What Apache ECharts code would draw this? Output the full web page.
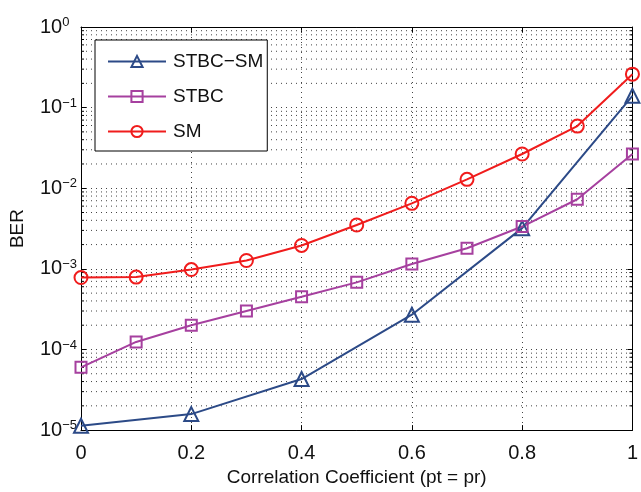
<!DOCTYPE html>
<html>
<head>
<meta charset="utf-8">
<script src="https://cdn.jsdelivr.net/npm/echarts@6/dist/echarts.min.js"></script>
<style>
html,body{margin:0;padding:0;background:#fff;}
#chart{width:641px;height:492px;}
</style>
</head>
<body>
<div id="chart"></div>
<script>
// ---- data ----
const xAll = [0, 0.1, 0.2, 0.3, 0.4, 0.5, 0.6, 0.7, 0.8, 0.9, 1.0];
const smBER = [7.8e-4, 7.9e-4, 9.8e-4, 1.27e-3, 1.95e-3, 3.5e-3, 6.5e-3, 1.29e-2, 2.66e-2, 5.9e-2, 0.26];
const stbcBER = [6.0e-5, 1.24e-4, 2.0e-4, 3.0e-4, 4.5e-4, 6.8e-4, 1.15e-3, 1.8e-3, 3.35e-3, 7.3e-3, 2.66e-2];
const stbcsmX = [0, 0.2, 0.4, 0.6, 0.8, 1.0];
const stbcsmBER = [1.13e-5, 1.58e-5, 4.3e-5, 2.7e-4, 3.2e-3, 0.14];
const seriesNames = ['STBC\u2212SM', 'STBC', 'SM'];
const yExponents = [0, -1, -2, -3, -4, -5];
const minorMantissas = [2, 3, 4, 5, 6, 7, 8, 9];
const minorDecades = [-5, -4, -3, -2, -1];

const FONT = "'Liberation Sans', Arial, sans-serif";
const colors = { stbcsm: '#2c4a87', stbc: '#a6409f', sm: '#f01c1c' };

const minorVals = [];
minorDecades.forEach(d => minorMantissas.forEach(m => minorVals.push([0, m * Math.pow(10, d)])));

const chart = echarts.init(document.getElementById('chart'), null, { renderer: 'canvas' });

function mkLine(name, xs, ys, color, symbol, size) {
  return {
    name: name, type: 'line', xAxisIndex: 0, yAxisIndex: 0,
    data: xs.map((x, i) => [x, ys[i]]),
    symbol: symbol, symbolSize: size, showSymbol: true,
    lineStyle: { color: color, width: 2 },
    itemStyle: { color: 'rgba(255,255,255,0)', borderColor: color, borderWidth: 2 },
    z: 5, animation: false
  };
}

const option = {
  animation: false,
  backgroundColor: '#fff',
  grid: { left: 79, right: 5, top: 27, bottom: 61, show: false },
  legend: {
    orient: 'vertical', left: 95, top: 40,
    data: seriesNames,
    backgroundColor: '#fff', borderColor: '#000', borderWidth: 1,
    padding: [12, 4, 10, 12], itemGap: 16, itemWidth: 58, itemHeight: 14,
    textStyle: { fontFamily: FONT, fontSize: 19, color: '#111', padding: [0, 0, 0, 2] },
    selectedMode: false
  },
  xAxis: [{
    type: 'value', min: 0, max: 1, interval: 0.2, position: 'bottom',
    name: 'Correlation Coefficient (pt = pr)', nameLocation: 'middle', nameGap: 37,
    nameTextStyle: { fontFamily: FONT, fontSize: 19, color: '#111' },
    axisLine: { show: true, onZero: false, lineStyle: { color: '#000', width: 1 } },
    axisTick: { show: true, inside: true, length: 5, lineStyle: { color: '#000' } },
    axisLabel: { fontFamily: FONT, fontSize: 20, color: '#111', margin: 13,
      formatter: v => String(+v.toFixed(1)) },
    splitLine: { show: true, lineStyle: { color: '#444', width: 1, type: [1, 4] } }
  }, {
    type: 'value', min: 0, max: 1, interval: 0.2, position: 'top',
    axisLine: { show: true, onZero: false, lineStyle: { color: '#000', width: 1 } },
    axisTick: { show: true, inside: true, length: 5, lineStyle: { color: '#000' } },
    axisLabel: { show: false }, splitLine: { show: false }
  }],
  yAxis: [{
    type: 'log', logBase: 10, min: 1e-5, max: 1, position: 'left',
    name: 'BER', nameLocation: 'middle', nameGap: 54,
    nameTextStyle: { fontFamily: FONT, fontSize: 19, color: '#111' },
    axisLine: { show: true, onZero: false, lineStyle: { color: '#000', width: 1 } },
    axisTick: { show: true, inside: true, length: 5, lineStyle: { color: '#000' } },
    axisLabel: {
      fontFamily: FONT, color: '#111', align: 'left', margin: 41,
      formatter: v => {
        const e = Math.round(Math.log10(v));
        return '{b|10}{s|' + (e < 0 ? '\u2212' + (-e) : e) + '}';
      },
      rich: {
        b: { fontFamily: FONT, fontSize: 20, color: '#111', lineHeight: 22 },
        s: { fontFamily: FONT, fontSize: 13, color: '#111', verticalAlign: 'top', lineHeight: 13 }
      }
    },
    splitLine: { show: true, lineStyle: { color: '#444', width: 1, type: [1, 4] } }
  }, {
    type: 'log', logBase: 10, min: 1e-5, max: 1, position: 'right',
    axisLine: { show: true, onZero: false, lineStyle: { color: '#000', width: 1 } },
    axisTick: { show: true, inside: true, length: 5, lineStyle: { color: '#000' } },
    axisLabel: { show: false }, splitLine: { show: false }
  }],
  series: [
    {
      name: 'minorGrid', type: 'custom', xAxisIndex: 0, yAxisIndex: 0,
      data: minorVals, silent: true, z: 1, animation: false,
      encode: { x: 0, y: 1 },
      renderItem: function (params, api) {
        const v = api.value(1);
        const a = api.coord([0, v]);
        const b = api.coord([1, v]);
        return {
          type: 'group',
          children: [
            { type: 'line', shape: { x1: a[0], y1: a[1], x2: b[0], y2: b[1] },
              style: { stroke: '#444', lineWidth: 1, lineDash: [1, 4] } },
            { type: 'line', shape: { x1: a[0], y1: a[1], x2: a[0] + 3, y2: a[1] },
              style: { stroke: '#000', lineWidth: 1 } },
            { type: 'line', shape: { x1: b[0] - 3, y1: b[1], x2: b[0], y2: b[1] },
              style: { stroke: '#000', lineWidth: 1 } }
          ]
        };
      }
    },
    mkLine(seriesNames[0], stbcsmX, stbcsmBER, colors.stbcsm, 'triangle', 14),
    mkLine(seriesNames[1], xAll, stbcBER, colors.stbc, 'rect', 11),
    mkLine(seriesNames[2], xAll, smBER, colors.sm, 'circle', 13)
  ]
};
chart.setOption(option);
</script>
</body>
</html>
